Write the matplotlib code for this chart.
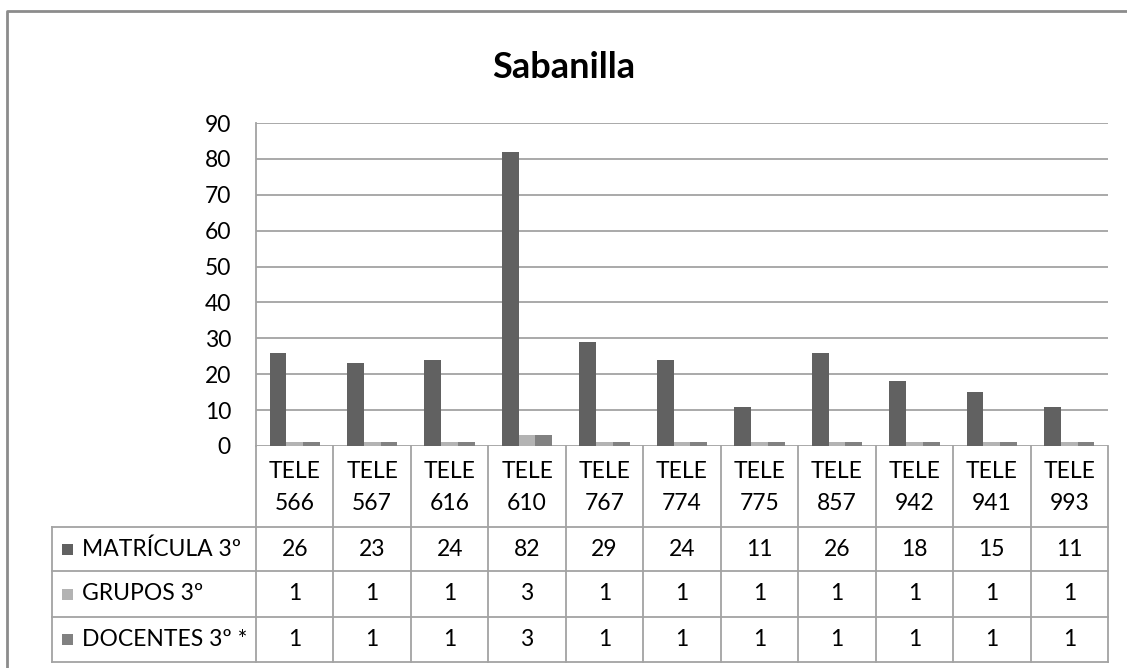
import matplotlib
matplotlib.use("Agg")
import matplotlib.pyplot as plt
from matplotlib.lines import Line2D
import numpy as np

plt.rcParams['font.family'] = ['Lato', 'DejaVu Sans']

categories = ["TELE\n566", "TELE\n567", "TELE\n616", "TELE\n610", "TELE\n767", "TELE\n774",
              "TELE\n775", "TELE\n857", "TELE\n942", "TELE\n941", "TELE\n993"]
series_names = ["MATRÍCULA 3º", "GRUPOS 3º", "DOCENTES 3º *"]
matricula = [26, 23, 24, 82, 29, 24, 11, 26, 18, 15, 11]
grupos = [1, 1, 1, 3, 1, 1, 1, 1, 1, 1, 1]
docentes = [1, 1, 1, 3, 1, 1, 1, 1, 1, 1, 1]
series = [matricula, grupos, docentes]
colors = ["#616161", "#b3b3b3", "#818181"]
yticks = [0, 10, 20, 30, 40, 50, 60, 70, 80, 90]

W, H = 1127, 668
fig = plt.figure(figsize=(W / 100, H / 100), dpi=100)
fig.patch.set_facecolor("white")

grid_c = "#a3a3a3"
fs = 16.5

def fx(px):
    return px / W

def fy(py):
    return 1 - py / H

# chart area
left, right, top, base = 256, 1108, 123, 446
ax = fig.add_axes([fx(left), fy(base), fx(right) - fx(left), fy(top) - fy(base)])
n = len(categories)
x = np.arange(n)
bw = 0.217
for i, (vals, c) in enumerate(zip(series, colors)):
    ax.bar(x + (i - 1) * bw, vals, width=bw, color=c, zorder=3, linewidth=0)
ax.set_xlim(-0.5, n - 0.5)
ax.set_ylim(0, 90)
ax.set_yticks(yticks)
ax.set_yticklabels([str(t) for t in yticks], fontsize=fs)
ax.tick_params(axis='y', length=0, pad=18)
ax.set_xticks([])
ax.yaxis.grid(True, color=grid_c, linewidth=1.3, zorder=0)
for s in ["top", "right", "bottom"]:
    ax.spines[s].set_visible(False)
ax.spines["left"].set_color(grid_c)
ax.spines["left"].set_linewidth(1.3)

# data table under the chart
tleft, tbottom = 52, 662
cw = (right - left) / n
xl = -0.5 - (left - tleft) / cw
tax = fig.add_axes([fx(tleft), fy(tbottom), fx(right) - fx(tleft), fy(base) - fy(tbottom)])
tax.set_xlim(xl, n - 0.5)
th = tbottom - base
tax.set_ylim(th, 0)
tax.axis("off")
rows = [0, 81, 125, 171, th]
lw = 1.3
for k in range(n + 1):
    tax.plot([k - 0.5, k - 0.5], [0, th], color=grid_c, lw=lw, clip_on=False)
for r in rows[1:]:
    tax.plot([xl, n - 0.5], [r, r], color=grid_c, lw=lw, clip_on=False)
tax.plot([xl, xl], [rows[1], th], color=grid_c, lw=lw, clip_on=False)

for k, cat in enumerate(categories):
    tax.text(k, rows[1] / 2 + 1, cat, ha="center", va="center", fontsize=fs,
             linespacing=1.6)
sq = 11 / cw
for j, (name, vals, c) in enumerate(zip(series_names, series, colors)):
    yc = (rows[j + 1] + rows[j + 2]) / 2
    for k, v in enumerate(vals):
        tax.text(k, yc, str(v), ha="center", va="center", fontsize=fs)
    tax.add_patch(plt.Rectangle((xl + 10 / cw, yc - 5.5), sq, 11, facecolor=c,
                                edgecolor="none", clip_on=False))
    tax.text(xl + 30 / cw, yc, name, ha="left", va="center", fontsize=fs)

fig.text(0.5, fy(68), "Sabanilla", ha="center", va="center", fontsize=26, fontweight="bold")

# outer frame
fig.add_artist(Line2D([fx(6.5), fx(6.5), fx(W + 5)], [fy(H + 5), fy(11), fy(11)],
                      color="#8c8c8c", lw=2, transform=fig.transFigure))

fig.savefig("out.png", dpi=100, facecolor="white")
